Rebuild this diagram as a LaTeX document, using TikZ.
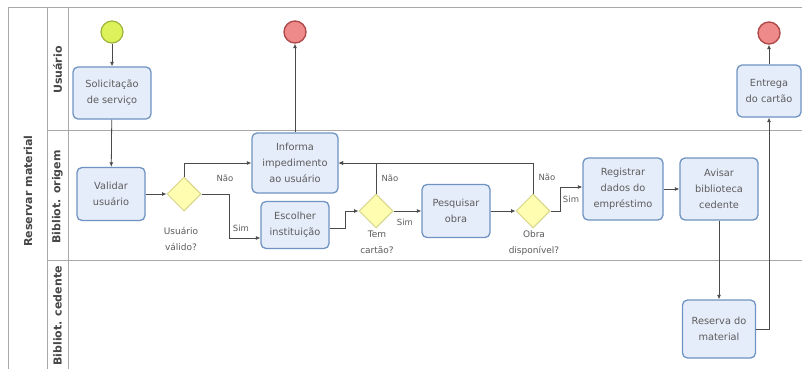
\documentclass[tikz,border=0pt]{standalone}
\usepackage{fontspec}
\setmainfont{DejaVu Sans}
\usetikzlibrary{shapes.geometric,arrows.meta}
\definecolor{boxfill}{HTML}{E6EDFA}
\definecolor{boxline}{HTML}{6F93C2}
\definecolor{dfill}{HTML}{FFFDB0}
\definecolor{dline}{HTML}{D6D48A}
\definecolor{sfill}{HTML}{DDF25A}
\definecolor{sline}{HTML}{9DB43A}
\definecolor{efill}{HTML}{EE8A8A}
\definecolor{eline}{HTML}{B04B4B}
\definecolor{txt}{HTML}{5C5C5C}
\definecolor{lanec}{HTML}{A8A8A8}
\definecolor{flowc}{HTML}{4A4A4A}
\tikzset{
  task/.style={draw=boxline, fill=boxfill, line width=1.3pt, rounded corners=5pt,
    align=center, inner sep=0pt, text=txt, font=\fontsize{9.8}{16}\selectfont},
  gate/.style={diamond, draw=dline, fill=dfill, line width=1pt, inner sep=0pt,
    minimum width=34pt, minimum height=34pt},
  startev/.style={circle, draw=sline, fill=sfill, line width=1.2pt, minimum size=22pt, inner sep=0pt},
  endev/.style={circle, draw=eline, fill=efill, line width=1.4pt, minimum size=22pt, inner sep=0pt},
  flow/.style={draw=flowc, line width=0.8pt, -{Latex[length=4.5pt,width=4pt]}},
  lbl/.style={text=txt, font=\fontsize{8.5}{11}\selectfont, inner sep=0pt},
  glbl/.style={text=txt, font=\fontsize{9}{16}\selectfont, align=center, inner sep=0pt},
  lanetxt/.style={rotate=90, text=black!72, font=\fontsize{11}{13}\selectfont\bfseries, inner sep=0pt},
  laneline/.style={draw=lanec, line width=1pt}
}
\begin{document}
\begin{tikzpicture}[x=1pt,y=-1pt]
\useasboundingbox (0,0) rectangle (802,369);
\fill[white] (0,0) rectangle (802,369);
% pool and lanes
\draw[laneline] (802,8) -- (8,8) -- (8,369);
\draw[laneline] (47,8) -- (47,369);
\draw[laneline] (68,8) -- (68,369);
\draw[laneline] (47,130) -- (802,130);
\draw[laneline] (47,260) -- (802,260);
\node[lanetxt] (pool) at (28,191) {Reservar material};
\node[lanetxt] (l1) at (57.5,70) {Usuário};
\node[lanetxt] (l2) at (57.5,197) {Bibliot. origem};
\node[lanetxt] (l3) at (57.5,316) {Bibliot. cedente};
% nodes
\node[startev] (start) at (112,32) {};
\node[task, minimum width=78pt, minimum height=52pt] (sol) at (112,93) {Solicitação\\de serviço};
\node[task, minimum width=68pt, minimum height=53pt] (val) at (111,194) {Validar\\usuário};
\node[gate] (d1) at (184,194) {};
\node[glbl] (d1l) at (181,239) {Usuário\\válido?};
\node[task, minimum width=86pt, minimum height=60pt] (inf) at (295,163) {Informa\\impedimento\\ao usuário};
\node[endev] (end1) at (295,32) {};
\node[task, minimum width=68pt, minimum height=47pt] (esc) at (295,225) {Escolher\\instituição};
\node[gate] (d2) at (376,211) {};
\node[glbl] (d2l) at (377,242) {Tem\\cartão?};
\node[task, minimum width=68pt, minimum height=53pt] (pes) at (456,211) {Pesquisar\\obra};
\node[gate] (d3) at (533,211) {};
\node[glbl] (d3l) at (534,243) {Obra\\disponível?};
\node[task, minimum width=80pt, minimum height=62pt] (reg) at (623,189) {Registrar\\dados do\\empréstimo};
\node[task, minimum width=78pt, minimum height=62pt] (avi) at (719,189) {Avisar\\biblioteca\\cedente};
\node[task, minimum width=64pt, minimum height=52pt] (ent) at (769,91) {Entrega\\do cartão};
\node[endev] (end2) at (769,33) {};
\node[task, minimum width=73pt, minimum height=58pt] (res) at (719,329) {Reserva do\\material};
% flows
\draw[flow] (start) -- (sol);
\draw[flow] (sol) -- (val);
\draw[flow] (val.east) -- (d1.west);
\draw[flow] (d1.north) |- (inf.west);
\node[lbl] (n1) at (225,178) {Não};
\draw[flow] (d1.east) -- ++(28,0) |- ([yshift=-13pt]esc.west);
\node[lbl] (s1) at (241,228) {Sim};
\draw[flow] ([yshift=-3pt]esc.east) -- ++(16,0) |- (d2.west);
\draw[flow] (d2.north) |- (inf.east);
\node[lbl] (n2) at (390,178) {Não};
\draw[flow] (d2.east) -- (pes.west);
\node[lbl] (s2) at (405,222) {Sim};
\draw[flow] (pes.east) -- (d3.west);
\draw[flow] (d3.north) |- (inf.east);
\node[lbl] (n3) at (547,177) {Não};
\draw[flow] (d3.east) -- ++(10,0) |- ([yshift=2pt]reg.west);
\node[lbl] (s3) at (571,199) {Sim};
\draw[flow] (reg.east) -- (avi.west);
\draw[flow] (avi.south) -- (res.north);
\draw[flow] (res.east) -| (ent.south);
\draw[flow] (ent.north) -- (end2.south);
\draw[flow] (inf.north) -- (end1.south);
\end{tikzpicture}
\end{document}
